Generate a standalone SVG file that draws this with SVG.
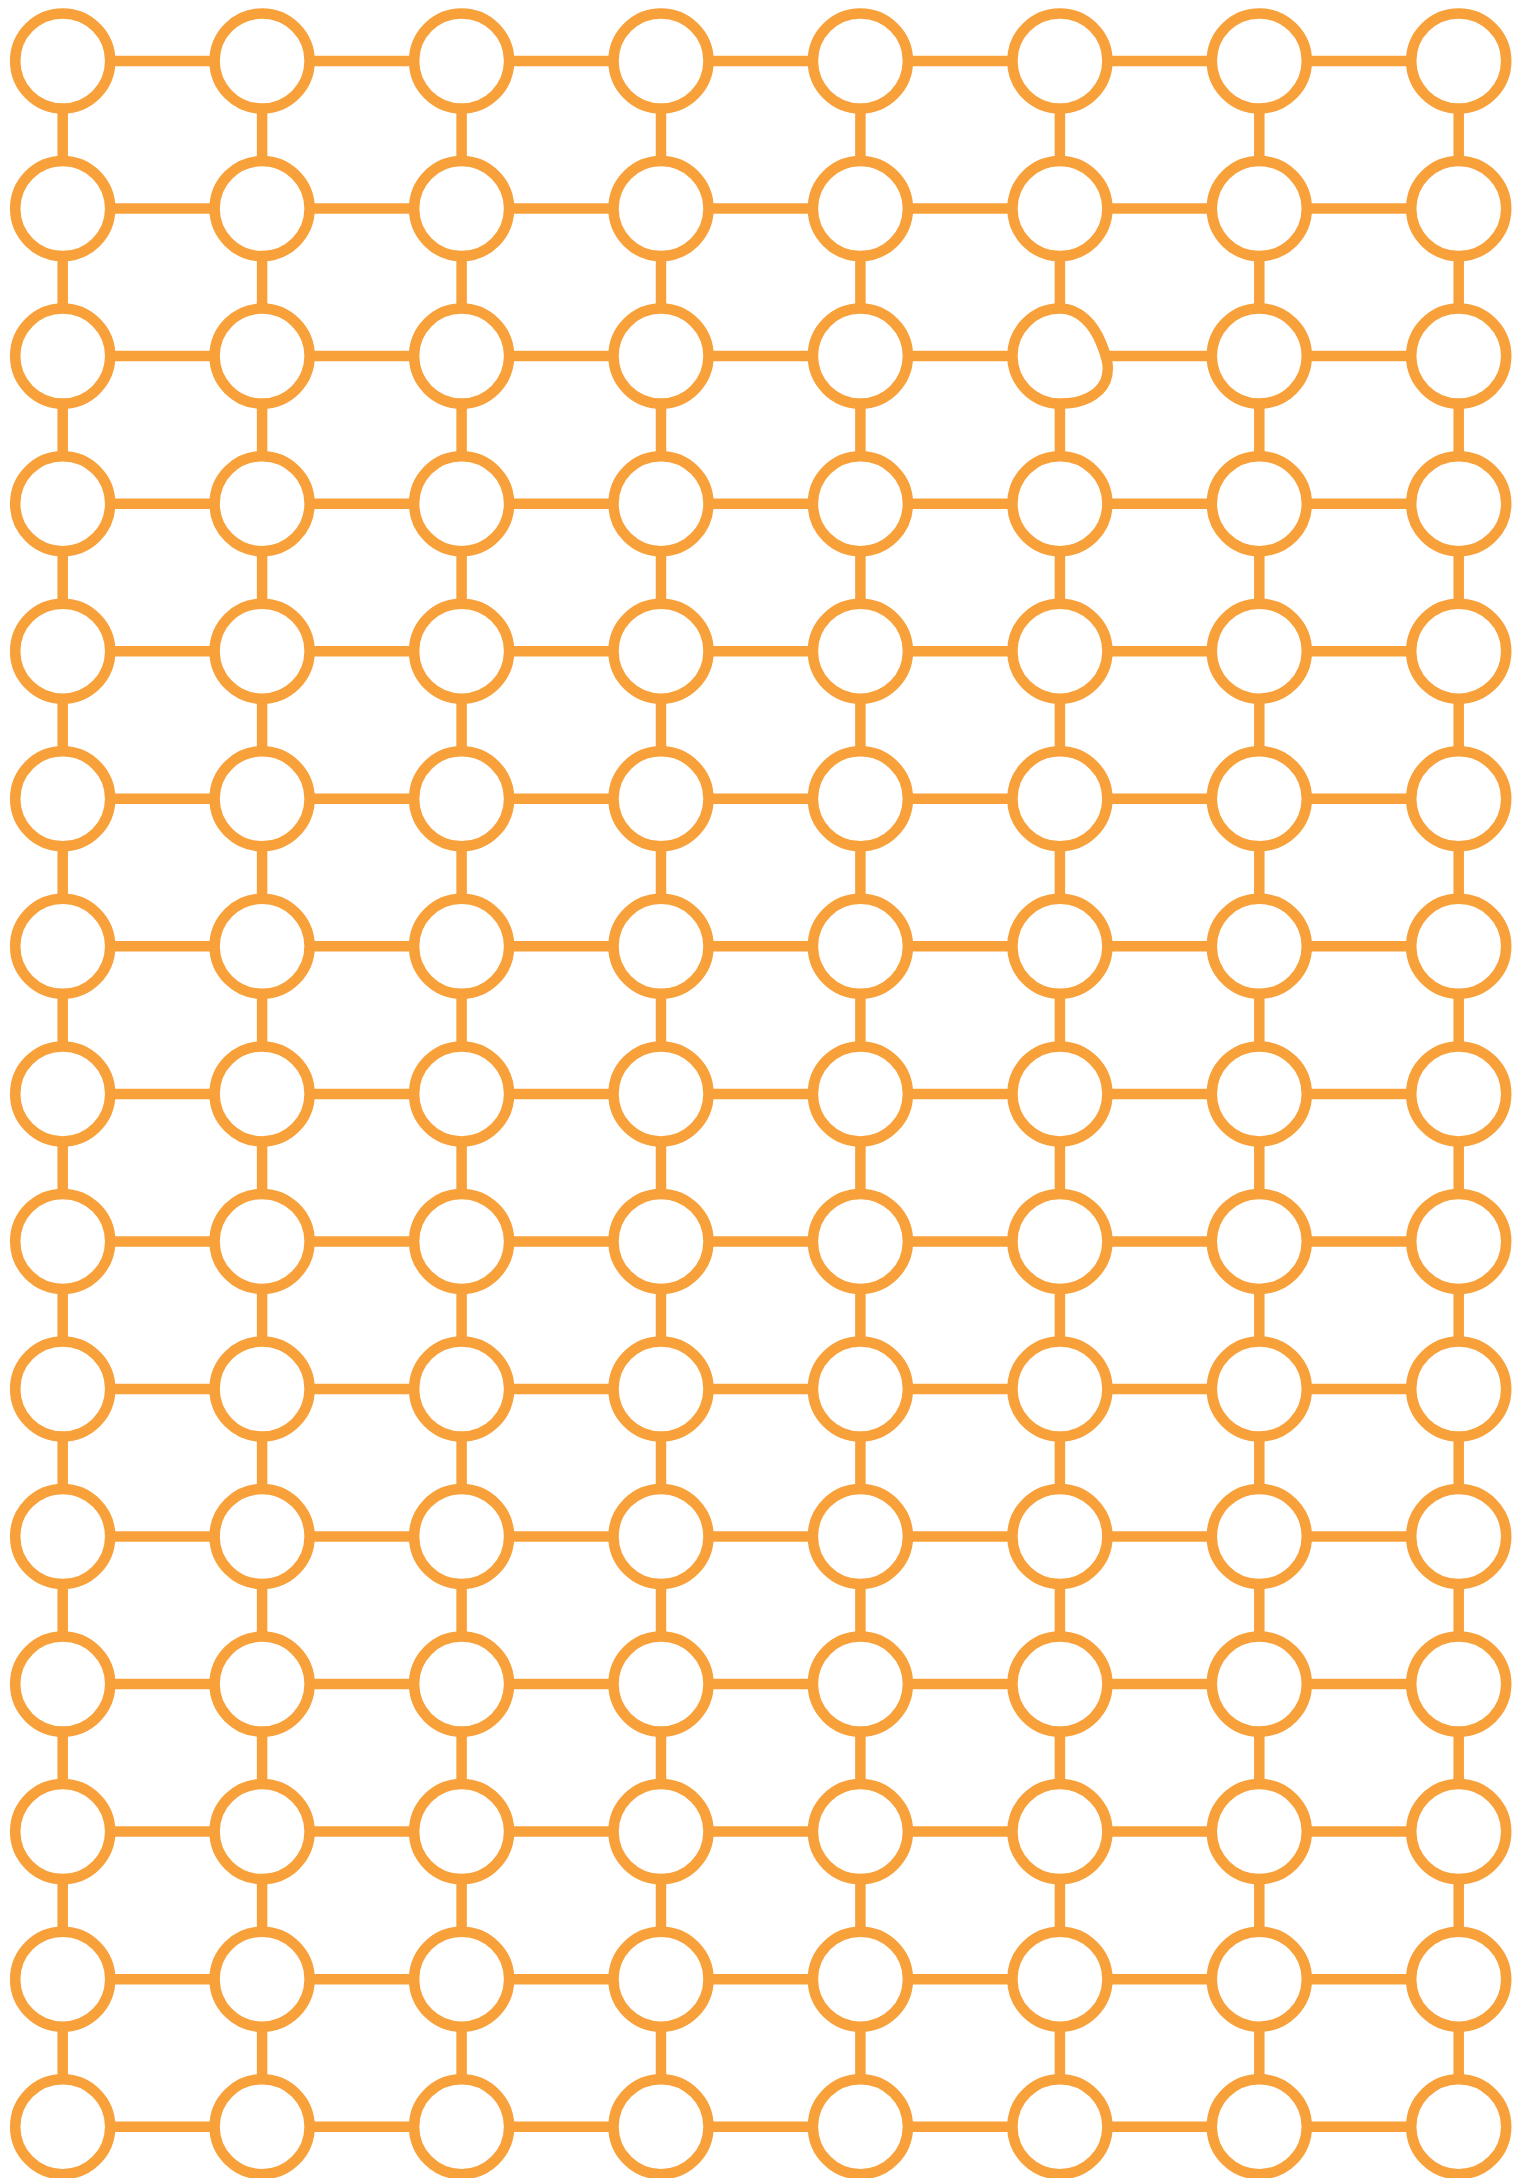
<svg xmlns="http://www.w3.org/2000/svg" width="1515" height="2178" viewBox="0 0 1515 2178">
<style>
.c{fill:#fff;stroke:#F8A13B;stroke-width:10.5}
.e path{fill:none;stroke:#F8A13B;stroke-width:10.5}
</style>
<rect width="1515" height="2178" fill="#fff"/>
<g id="connectors" class="e">
<path d="M110.2 61H214.6"/><path d="M309.6 61H414.1"/><path d="M509.1 61H613.5"/><path d="M708.5 61H812.9"/><path d="M907.9 61H1012.4"/><path d="M1107.4 61H1211.8"/><path d="M1306.8 61H1411.2"/>
<path d="M110.2 208.6H214.6"/><path d="M309.6 208.6H414.1"/><path d="M509.1 208.6H613.5"/><path d="M708.5 208.6H812.9"/><path d="M907.9 208.6H1012.4"/><path d="M1107.4 208.6H1211.8"/><path d="M1306.8 208.6H1411.2"/>
<path d="M110.2 356.1H214.6"/><path d="M309.6 356.1H414.1"/><path d="M509.1 356.1H613.5"/><path d="M708.5 356.1H812.9"/><path d="M907.9 356.1H1012.4"/><path d="M1108 356.1H1211.8"/><path d="M1306.8 356.1H1411.2"/>
<path d="M110.2 503.7H214.6"/><path d="M309.6 503.7H414.1"/><path d="M509.1 503.7H613.5"/><path d="M708.5 503.7H812.9"/><path d="M907.9 503.7H1012.4"/><path d="M1107.4 503.7H1211.8"/><path d="M1306.8 503.7H1411.2"/>
<path d="M110.2 651.2H214.6"/><path d="M309.6 651.2H414.1"/><path d="M509.1 651.2H613.5"/><path d="M708.5 651.2H812.9"/><path d="M907.9 651.2H1012.4"/><path d="M1107.4 651.2H1211.8"/><path d="M1306.8 651.2H1411.2"/>
<path d="M110.2 798.8H214.6"/><path d="M309.6 798.8H414.1"/><path d="M509.1 798.8H613.5"/><path d="M708.5 798.8H812.9"/><path d="M907.9 798.8H1012.4"/><path d="M1107.4 798.8H1211.8"/><path d="M1306.8 798.8H1411.2"/>
<path d="M110.2 946.3H214.6"/><path d="M309.6 946.3H414.1"/><path d="M509.1 946.3H613.5"/><path d="M708.5 946.3H812.9"/><path d="M907.9 946.3H1012.4"/><path d="M1107.4 946.3H1211.8"/><path d="M1306.8 946.3H1411.2"/>
<path d="M110.2 1093.9H214.6"/><path d="M309.6 1093.9H414.1"/><path d="M509.1 1093.9H613.5"/><path d="M708.5 1093.9H812.9"/><path d="M907.9 1093.9H1012.4"/><path d="M1107.4 1093.9H1211.8"/><path d="M1306.8 1093.9H1411.2"/>
<path d="M110.2 1241.4H214.6"/><path d="M309.6 1241.4H414.1"/><path d="M509.1 1241.4H613.5"/><path d="M708.5 1241.4H812.9"/><path d="M907.9 1241.4H1012.4"/><path d="M1107.4 1241.4H1211.8"/><path d="M1306.8 1241.4H1411.2"/>
<path d="M110.2 1389H214.6"/><path d="M309.6 1389H414.1"/><path d="M509.1 1389H613.5"/><path d="M708.5 1389H812.9"/><path d="M907.9 1389H1012.4"/><path d="M1107.4 1389H1211.8"/><path d="M1306.8 1389H1411.2"/>
<path d="M110.2 1536.5H214.6"/><path d="M309.6 1536.5H414.1"/><path d="M509.1 1536.5H613.5"/><path d="M708.5 1536.5H812.9"/><path d="M907.9 1536.5H1012.4"/><path d="M1107.4 1536.5H1211.8"/><path d="M1306.8 1536.5H1411.2"/>
<path d="M110.2 1684.1H214.6"/><path d="M309.6 1684.1H414.1"/><path d="M509.1 1684.1H613.5"/><path d="M708.5 1684.1H812.9"/><path d="M907.9 1684.1H1012.4"/><path d="M1107.4 1684.1H1211.8"/><path d="M1306.8 1684.1H1411.2"/>
<path d="M110.2 1831.6H214.6"/><path d="M309.6 1831.6H414.1"/><path d="M509.1 1831.6H613.5"/><path d="M708.5 1831.6H812.9"/><path d="M907.9 1831.6H1012.4"/><path d="M1107.4 1831.6H1211.8"/><path d="M1306.8 1831.6H1411.2"/>
<path d="M110.2 1979.2H214.6"/><path d="M309.6 1979.2H414.1"/><path d="M509.1 1979.2H613.5"/><path d="M708.5 1979.2H812.9"/><path d="M907.9 1979.2H1012.4"/><path d="M1107.4 1979.2H1211.8"/><path d="M1306.8 1979.2H1411.2"/>
<path d="M110.2 2126.7H214.6"/><path d="M309.6 2126.7H414.1"/><path d="M509.1 2126.7H613.5"/><path d="M708.5 2126.7H812.9"/><path d="M907.9 2126.7H1012.4"/><path d="M1107.4 2126.7H1211.8"/><path d="M1306.8 2126.7H1411.2"/>
<path d="M62.7 108.5V161.1"/><path d="M62.7 256.1V308.6"/><path d="M62.7 403.6V456.2"/><path d="M62.7 551.2V603.7"/><path d="M62.7 698.7V751.3"/><path d="M62.7 846.3V898.8"/><path d="M62.7 993.8V1046.4"/><path d="M62.7 1141.4V1193.9"/><path d="M62.7 1288.9V1341.5"/><path d="M62.7 1436.5V1489"/><path d="M62.7 1584V1636.6"/><path d="M62.7 1731.6V1784.1"/><path d="M62.7 1879.1V1931.7"/><path d="M62.7 2026.7V2079.2"/>
<path d="M262.1 108.5V161.1"/><path d="M262.1 256.1V308.6"/><path d="M262.1 403.6V456.2"/><path d="M262.1 551.2V603.7"/><path d="M262.1 698.7V751.3"/><path d="M262.1 846.3V898.8"/><path d="M262.1 993.8V1046.4"/><path d="M262.1 1141.4V1193.9"/><path d="M262.1 1288.9V1341.5"/><path d="M262.1 1436.5V1489"/><path d="M262.1 1584V1636.6"/><path d="M262.1 1731.6V1784.1"/><path d="M262.1 1879.1V1931.7"/><path d="M262.1 2026.7V2079.2"/>
<path d="M461.6 108.5V161.1"/><path d="M461.6 256.1V308.6"/><path d="M461.6 403.6V456.2"/><path d="M461.6 551.2V603.7"/><path d="M461.6 698.7V751.3"/><path d="M461.6 846.3V898.8"/><path d="M461.6 993.8V1046.4"/><path d="M461.6 1141.4V1193.9"/><path d="M461.6 1288.9V1341.5"/><path d="M461.6 1436.5V1489"/><path d="M461.6 1584V1636.6"/><path d="M461.6 1731.6V1784.1"/><path d="M461.6 1879.1V1931.7"/><path d="M461.6 2026.7V2079.2"/>
<path d="M661 108.5V161.1"/><path d="M661 256.1V308.6"/><path d="M661 403.6V456.2"/><path d="M661 551.2V603.7"/><path d="M661 698.7V751.3"/><path d="M661 846.3V898.8"/><path d="M661 993.8V1046.4"/><path d="M661 1141.4V1193.9"/><path d="M661 1288.9V1341.5"/><path d="M661 1436.5V1489"/><path d="M661 1584V1636.6"/><path d="M661 1731.6V1784.1"/><path d="M661 1879.1V1931.7"/><path d="M661 2026.7V2079.2"/>
<path d="M860.4 108.5V161.1"/><path d="M860.4 256.1V308.6"/><path d="M860.4 403.6V456.2"/><path d="M860.4 551.2V603.7"/><path d="M860.4 698.7V751.3"/><path d="M860.4 846.3V898.8"/><path d="M860.4 993.8V1046.4"/><path d="M860.4 1141.4V1193.9"/><path d="M860.4 1288.9V1341.5"/><path d="M860.4 1436.5V1489"/><path d="M860.4 1584V1636.6"/><path d="M860.4 1731.6V1784.1"/><path d="M860.4 1879.1V1931.7"/><path d="M860.4 2026.7V2079.2"/>
<path d="M1059.9 108.5V161.1"/><path d="M1059.9 256.1V308.6"/><path d="M1059.9 403.6V456.2"/><path d="M1059.9 551.2V603.7"/><path d="M1059.9 698.7V751.3"/><path d="M1059.9 846.3V898.8"/><path d="M1059.9 993.8V1046.4"/><path d="M1059.9 1141.4V1193.9"/><path d="M1059.9 1288.9V1341.5"/><path d="M1059.9 1436.5V1489"/><path d="M1059.9 1584V1636.6"/><path d="M1059.9 1731.6V1784.1"/><path d="M1059.9 1879.1V1931.7"/><path d="M1059.9 2026.7V2079.2"/>
<path d="M1259.3 108.5V161.1"/><path d="M1259.3 256.1V308.6"/><path d="M1259.3 403.6V456.2"/><path d="M1259.3 551.2V603.7"/><path d="M1259.3 698.7V751.3"/><path d="M1259.3 846.3V898.8"/><path d="M1259.3 993.8V1046.4"/><path d="M1259.3 1141.4V1193.9"/><path d="M1259.3 1288.9V1341.5"/><path d="M1259.3 1436.5V1489"/><path d="M1259.3 1584V1636.6"/><path d="M1259.3 1731.6V1784.1"/><path d="M1259.3 1879.1V1931.7"/><path d="M1259.3 2026.7V2079.2"/>
<path d="M1458.7 108.5V161.1"/><path d="M1458.7 256.1V308.6"/><path d="M1458.7 403.6V456.2"/><path d="M1458.7 551.2V603.7"/><path d="M1458.7 698.7V751.3"/><path d="M1458.7 846.3V898.8"/><path d="M1458.7 993.8V1046.4"/><path d="M1458.7 1141.4V1193.9"/><path d="M1458.7 1288.9V1341.5"/><path d="M1458.7 1436.5V1489"/><path d="M1458.7 1584V1636.6"/><path d="M1458.7 1731.6V1784.1"/><path d="M1458.7 1879.1V1931.7"/><path d="M1458.7 2026.7V2079.2"/>
</g>
<g id="nodes">
<g id="n1-1"><circle class="c" cx="62.7" cy="61" r="47.5"/></g><g id="n1-2"><circle class="c" cx="262.1" cy="61" r="47.5"/></g><g id="n1-3"><circle class="c" cx="461.6" cy="61" r="47.5"/></g><g id="n1-4"><circle class="c" cx="661" cy="61" r="47.5"/></g><g id="n1-5"><circle class="c" cx="860.4" cy="61" r="47.5"/></g><g id="n1-6"><circle class="c" cx="1059.9" cy="61" r="47.5"/></g><g id="n1-7"><circle class="c" cx="1259.3" cy="61" r="47.5"/></g><g id="n1-8"><circle class="c" cx="1458.7" cy="61" r="47.5"/></g>
<g id="n2-1"><circle class="c" cx="62.7" cy="208.6" r="47.5"/></g><g id="n2-2"><circle class="c" cx="262.1" cy="208.6" r="47.5"/></g><g id="n2-3"><circle class="c" cx="461.6" cy="208.6" r="47.5"/></g><g id="n2-4"><circle class="c" cx="661" cy="208.6" r="47.5"/></g><g id="n2-5"><circle class="c" cx="860.4" cy="208.6" r="47.5"/></g><g id="n2-6"><circle class="c" cx="1059.9" cy="208.6" r="47.5"/></g><g id="n2-7"><circle class="c" cx="1259.3" cy="208.6" r="47.5"/></g><g id="n2-8"><circle class="c" cx="1458.7" cy="208.6" r="47.5"/></g>
<g id="n3-1"><circle class="c" cx="62.7" cy="356.1" r="47.5"/></g><g id="n3-2"><circle class="c" cx="262.1" cy="356.1" r="47.5"/></g><g id="n3-3"><circle class="c" cx="461.6" cy="356.1" r="47.5"/></g><g id="n3-4"><circle class="c" cx="661" cy="356.1" r="47.5"/></g><g id="n3-5"><circle class="c" cx="860.4" cy="356.1" r="47.5"/></g><g id="n3-6"><path class="c" d="M1059.9 308.6C1080 308.6 1094 325 1101.5 344C1107.5 359 1110 369 1105.5 381C1099 396 1081 403.6 1059.9 403.6A47.5 47.5 0 0 1 1012.4 356.1A47.5 47.5 0 0 1 1059.9 308.6Z"/></g><g id="n3-7"><circle class="c" cx="1259.3" cy="356.1" r="47.5"/></g><g id="n3-8"><circle class="c" cx="1458.7" cy="356.1" r="47.5"/></g>
<g id="n4-1"><circle class="c" cx="62.7" cy="503.7" r="47.5"/></g><g id="n4-2"><circle class="c" cx="262.1" cy="503.7" r="47.5"/></g><g id="n4-3"><circle class="c" cx="461.6" cy="503.7" r="47.5"/></g><g id="n4-4"><circle class="c" cx="661" cy="503.7" r="47.5"/></g><g id="n4-5"><circle class="c" cx="860.4" cy="503.7" r="47.5"/></g><g id="n4-6"><circle class="c" cx="1059.9" cy="503.7" r="47.5"/></g><g id="n4-7"><circle class="c" cx="1259.3" cy="503.7" r="47.5"/></g><g id="n4-8"><circle class="c" cx="1458.7" cy="503.7" r="47.5"/></g>
<g id="n5-1"><circle class="c" cx="62.7" cy="651.2" r="47.5"/></g><g id="n5-2"><circle class="c" cx="262.1" cy="651.2" r="47.5"/></g><g id="n5-3"><circle class="c" cx="461.6" cy="651.2" r="47.5"/></g><g id="n5-4"><circle class="c" cx="661" cy="651.2" r="47.5"/></g><g id="n5-5"><circle class="c" cx="860.4" cy="651.2" r="47.5"/></g><g id="n5-6"><circle class="c" cx="1059.9" cy="651.2" r="47.5"/></g><g id="n5-7"><circle class="c" cx="1259.3" cy="651.2" r="47.5"/></g><g id="n5-8"><circle class="c" cx="1458.7" cy="651.2" r="47.5"/></g>
<g id="n6-1"><circle class="c" cx="62.7" cy="798.8" r="47.5"/></g><g id="n6-2"><circle class="c" cx="262.1" cy="798.8" r="47.5"/></g><g id="n6-3"><circle class="c" cx="461.6" cy="798.8" r="47.5"/></g><g id="n6-4"><circle class="c" cx="661" cy="798.8" r="47.5"/></g><g id="n6-5"><circle class="c" cx="860.4" cy="798.8" r="47.5"/></g><g id="n6-6"><circle class="c" cx="1059.9" cy="798.8" r="47.5"/></g><g id="n6-7"><circle class="c" cx="1259.3" cy="798.8" r="47.5"/></g><g id="n6-8"><circle class="c" cx="1458.7" cy="798.8" r="47.5"/></g>
<g id="n7-1"><circle class="c" cx="62.7" cy="946.3" r="47.5"/></g><g id="n7-2"><circle class="c" cx="262.1" cy="946.3" r="47.5"/></g><g id="n7-3"><circle class="c" cx="461.6" cy="946.3" r="47.5"/></g><g id="n7-4"><circle class="c" cx="661" cy="946.3" r="47.5"/></g><g id="n7-5"><circle class="c" cx="860.4" cy="946.3" r="47.5"/></g><g id="n7-6"><circle class="c" cx="1059.9" cy="946.3" r="47.5"/></g><g id="n7-7"><circle class="c" cx="1259.3" cy="946.3" r="47.5"/></g><g id="n7-8"><circle class="c" cx="1458.7" cy="946.3" r="47.5"/></g>
<g id="n8-1"><circle class="c" cx="62.7" cy="1093.9" r="47.5"/></g><g id="n8-2"><circle class="c" cx="262.1" cy="1093.9" r="47.5"/></g><g id="n8-3"><circle class="c" cx="461.6" cy="1093.9" r="47.5"/></g><g id="n8-4"><circle class="c" cx="661" cy="1093.9" r="47.5"/></g><g id="n8-5"><circle class="c" cx="860.4" cy="1093.9" r="47.5"/></g><g id="n8-6"><circle class="c" cx="1059.9" cy="1093.9" r="47.5"/></g><g id="n8-7"><circle class="c" cx="1259.3" cy="1093.9" r="47.5"/></g><g id="n8-8"><circle class="c" cx="1458.7" cy="1093.9" r="47.5"/></g>
<g id="n9-1"><circle class="c" cx="62.7" cy="1241.4" r="47.5"/></g><g id="n9-2"><circle class="c" cx="262.1" cy="1241.4" r="47.5"/></g><g id="n9-3"><circle class="c" cx="461.6" cy="1241.4" r="47.5"/></g><g id="n9-4"><circle class="c" cx="661" cy="1241.4" r="47.5"/></g><g id="n9-5"><circle class="c" cx="860.4" cy="1241.4" r="47.5"/></g><g id="n9-6"><circle class="c" cx="1059.9" cy="1241.4" r="47.5"/></g><g id="n9-7"><circle class="c" cx="1259.3" cy="1241.4" r="47.5"/></g><g id="n9-8"><circle class="c" cx="1458.7" cy="1241.4" r="47.5"/></g>
<g id="n10-1"><circle class="c" cx="62.7" cy="1389" r="47.5"/></g><g id="n10-2"><circle class="c" cx="262.1" cy="1389" r="47.5"/></g><g id="n10-3"><circle class="c" cx="461.6" cy="1389" r="47.5"/></g><g id="n10-4"><circle class="c" cx="661" cy="1389" r="47.5"/></g><g id="n10-5"><circle class="c" cx="860.4" cy="1389" r="47.5"/></g><g id="n10-6"><circle class="c" cx="1059.9" cy="1389" r="47.5"/></g><g id="n10-7"><circle class="c" cx="1259.3" cy="1389" r="47.5"/></g><g id="n10-8"><circle class="c" cx="1458.7" cy="1389" r="47.5"/></g>
<g id="n11-1"><circle class="c" cx="62.7" cy="1536.5" r="47.5"/></g><g id="n11-2"><circle class="c" cx="262.1" cy="1536.5" r="47.5"/></g><g id="n11-3"><circle class="c" cx="461.6" cy="1536.5" r="47.5"/></g><g id="n11-4"><circle class="c" cx="661" cy="1536.5" r="47.5"/></g><g id="n11-5"><circle class="c" cx="860.4" cy="1536.5" r="47.5"/></g><g id="n11-6"><circle class="c" cx="1059.9" cy="1536.5" r="47.5"/></g><g id="n11-7"><circle class="c" cx="1259.3" cy="1536.5" r="47.5"/></g><g id="n11-8"><circle class="c" cx="1458.7" cy="1536.5" r="47.5"/></g>
<g id="n12-1"><circle class="c" cx="62.7" cy="1684.1" r="47.5"/></g><g id="n12-2"><circle class="c" cx="262.1" cy="1684.1" r="47.5"/></g><g id="n12-3"><circle class="c" cx="461.6" cy="1684.1" r="47.5"/></g><g id="n12-4"><circle class="c" cx="661" cy="1684.1" r="47.5"/></g><g id="n12-5"><circle class="c" cx="860.4" cy="1684.1" r="47.5"/></g><g id="n12-6"><circle class="c" cx="1059.9" cy="1684.1" r="47.5"/></g><g id="n12-7"><circle class="c" cx="1259.3" cy="1684.1" r="47.5"/></g><g id="n12-8"><circle class="c" cx="1458.7" cy="1684.1" r="47.5"/></g>
<g id="n13-1"><circle class="c" cx="62.7" cy="1831.6" r="47.5"/></g><g id="n13-2"><circle class="c" cx="262.1" cy="1831.6" r="47.5"/></g><g id="n13-3"><circle class="c" cx="461.6" cy="1831.6" r="47.5"/></g><g id="n13-4"><circle class="c" cx="661" cy="1831.6" r="47.5"/></g><g id="n13-5"><circle class="c" cx="860.4" cy="1831.6" r="47.5"/></g><g id="n13-6"><circle class="c" cx="1059.9" cy="1831.6" r="47.5"/></g><g id="n13-7"><circle class="c" cx="1259.3" cy="1831.6" r="47.5"/></g><g id="n13-8"><circle class="c" cx="1458.7" cy="1831.6" r="47.5"/></g>
<g id="n14-1"><circle class="c" cx="62.7" cy="1979.2" r="47.5"/></g><g id="n14-2"><circle class="c" cx="262.1" cy="1979.2" r="47.5"/></g><g id="n14-3"><circle class="c" cx="461.6" cy="1979.2" r="47.5"/></g><g id="n14-4"><circle class="c" cx="661" cy="1979.2" r="47.5"/></g><g id="n14-5"><circle class="c" cx="860.4" cy="1979.2" r="47.5"/></g><g id="n14-6"><circle class="c" cx="1059.9" cy="1979.2" r="47.5"/></g><g id="n14-7"><circle class="c" cx="1259.3" cy="1979.2" r="47.5"/></g><g id="n14-8"><circle class="c" cx="1458.7" cy="1979.2" r="47.5"/></g>
<g id="n15-1"><circle class="c" cx="62.7" cy="2126.7" r="47.5"/></g><g id="n15-2"><circle class="c" cx="262.1" cy="2126.7" r="47.5"/></g><g id="n15-3"><circle class="c" cx="461.6" cy="2126.7" r="47.5"/></g><g id="n15-4"><circle class="c" cx="661" cy="2126.7" r="47.5"/></g><g id="n15-5"><circle class="c" cx="860.4" cy="2126.7" r="47.5"/></g><g id="n15-6"><circle class="c" cx="1059.9" cy="2126.7" r="47.5"/></g><g id="n15-7"><circle class="c" cx="1259.3" cy="2126.7" r="47.5"/></g><g id="n15-8"><circle class="c" cx="1458.7" cy="2126.7" r="47.5"/></g>
</g>
</svg>
